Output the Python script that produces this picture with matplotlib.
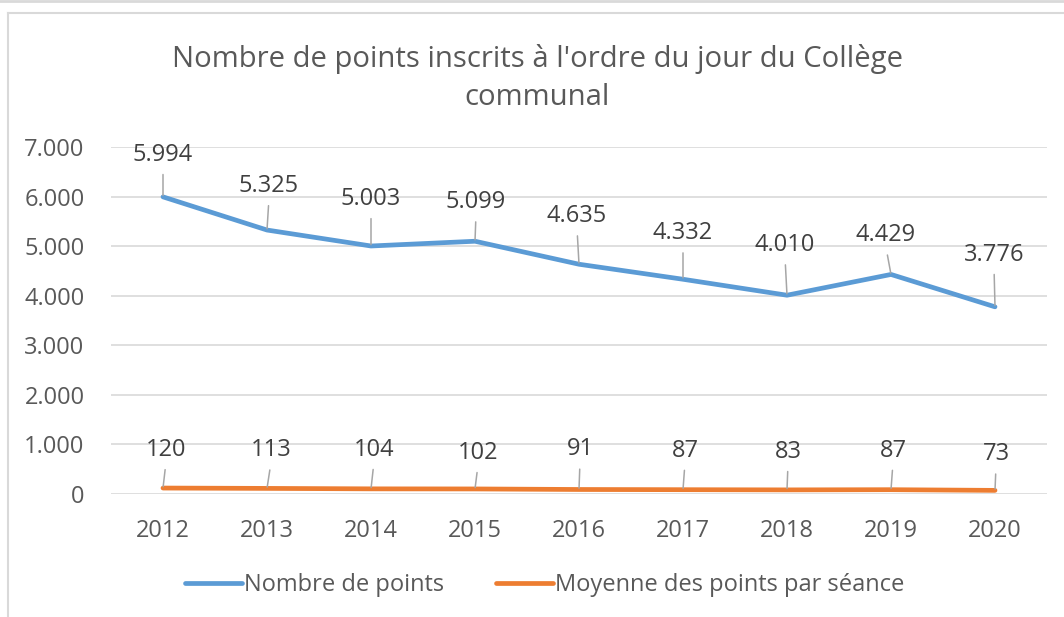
import matplotlib
matplotlib.use("Agg")
import matplotlib.pyplot as plt
from matplotlib.lines import Line2D
from matplotlib.ticker import FuncFormatter

plt.rcParams['font.family'] = ['Open Sans', 'DejaVu Sans']

years = ["2012", "2013", "2014", "2015", "2016", "2017", "2018", "2019", "2020"]
nombre_points = [5994, 5325, 5003, 5099, 4635, 4332, 4010, 4429, 3776]
moyenne_points = [120, 113, 104, 102, 91, 87, 83, 87, 73]
series_names = ["Nombre de points", "Moyenne des points par séance"]
title = "Nombre de points inscrits à l'ordre du jour du Collège\ncommunal"

# label centre offsets in pixels (layout only)
blue_offsets_px = [(0, 42), (2, 44), (0, 47), (1, 39), (-2, 48), (0, 46), (-2, 50), (-5, 39), (-1, 52)]
orange_offsets_px = [(3, 38), (4, 38), (3, 39), (3, 36), (1, 40), (2, 39), (1, 38), (2, 39), (1, 36)]

BLUE = "#5B9BD5"
ORANGE = "#ED7D31"
TXT = "#595959"
LBL = "#404040"
GRID = "#D9D9D9"
PX = 72 / 100  # points per pixel

fig = plt.figure(figsize=(10.64, 6.17), dpi=100)
ax = fig.add_axes([111 / 1064, 123 / 617, 936 / 1064, 347 / 617])

x = list(range(len(years)))
ax.plot(x, nombre_points, color=BLUE, lw=3.4, solid_capstyle='round', solid_joinstyle='round', zorder=3)
ax.plot(x, moyenne_points, color=ORANGE, lw=3.4, solid_capstyle='round', solid_joinstyle='round', zorder=3)

ax.set_xlim(-0.5, len(years) - 0.5)
ax.set_ylim(0, 7000)
ax.set_yticks(range(0, 7001, 1000))
ax.yaxis.set_major_formatter(FuncFormatter(lambda v, p: f"{int(v):,}".replace(",", ".")))
ax.set_xticks(x)
ax.set_xticklabels(years)
ax.grid(axis='y', color=GRID, lw=1.2)
ax.set_axisbelow(True)
for s in ax.spines.values():
    s.set_visible(False)
ax.tick_params(axis='both', length=0, labelsize=17, labelcolor=TXT)
ax.tick_params(axis='y', pad=19)
ax.tick_params(axis='x', pad=18)

def fmt(v):
    return f"{v:,}".replace(",", ".")

def label(i, v, off):
    ax.annotate(fmt(v), xy=(i, v), xytext=(off[0] * PX, off[1] * PX), textcoords='offset points',
                ha='center', va='center', fontsize=17, color=LBL,
                arrowprops=dict(arrowstyle='-', color='#A6A6A6', lw=1.1, shrinkA=3.5, shrinkB=1,
                                relpos=(0.5, 0)), zorder=4)

for i, v in enumerate(nombre_points):
    label(i, v, blue_offsets_px[i])
for i, v in enumerate(moyenne_points):
    label(i, v, orange_offsets_px[i])

fig.text(537 / 1064, 1 - 78 / 617, title, ha='center', va='center', fontsize=21.1, color=TXT,
         linespacing=1.4)

handles = [Line2D([], [], color=BLUE, lw=3.4, solid_capstyle='round'),
           Line2D([], [], color=ORANGE, lw=3.4, solid_capstyle='round')]
fig.legend(handles, series_names, loc='center', bbox_to_anchor=(545 / 1064, 1 - 585 / 617),
           ncol=2, frameon=False, fontsize=17, labelcolor=TXT, handlelength=2.4,
           handletextpad=0.1, columnspacing=2.2)

# frame lines
fig.add_artist(Line2D([8 / 1064, 8 / 1064], [0, 1 - 13 / 617], transform=fig.transFigure, color=GRID, lw=1.5))
fig.add_artist(Line2D([8 / 1064, 1], [1 - 13 / 617, 1 - 13 / 617], transform=fig.transFigure, color=GRID, lw=1.5))
fig.add_artist(Line2D([0, 1], [1 - 1 / 617, 1 - 1 / 617], transform=fig.transFigure, color=GRID, lw=2))

fig.savefig("out.png", dpi=100)
